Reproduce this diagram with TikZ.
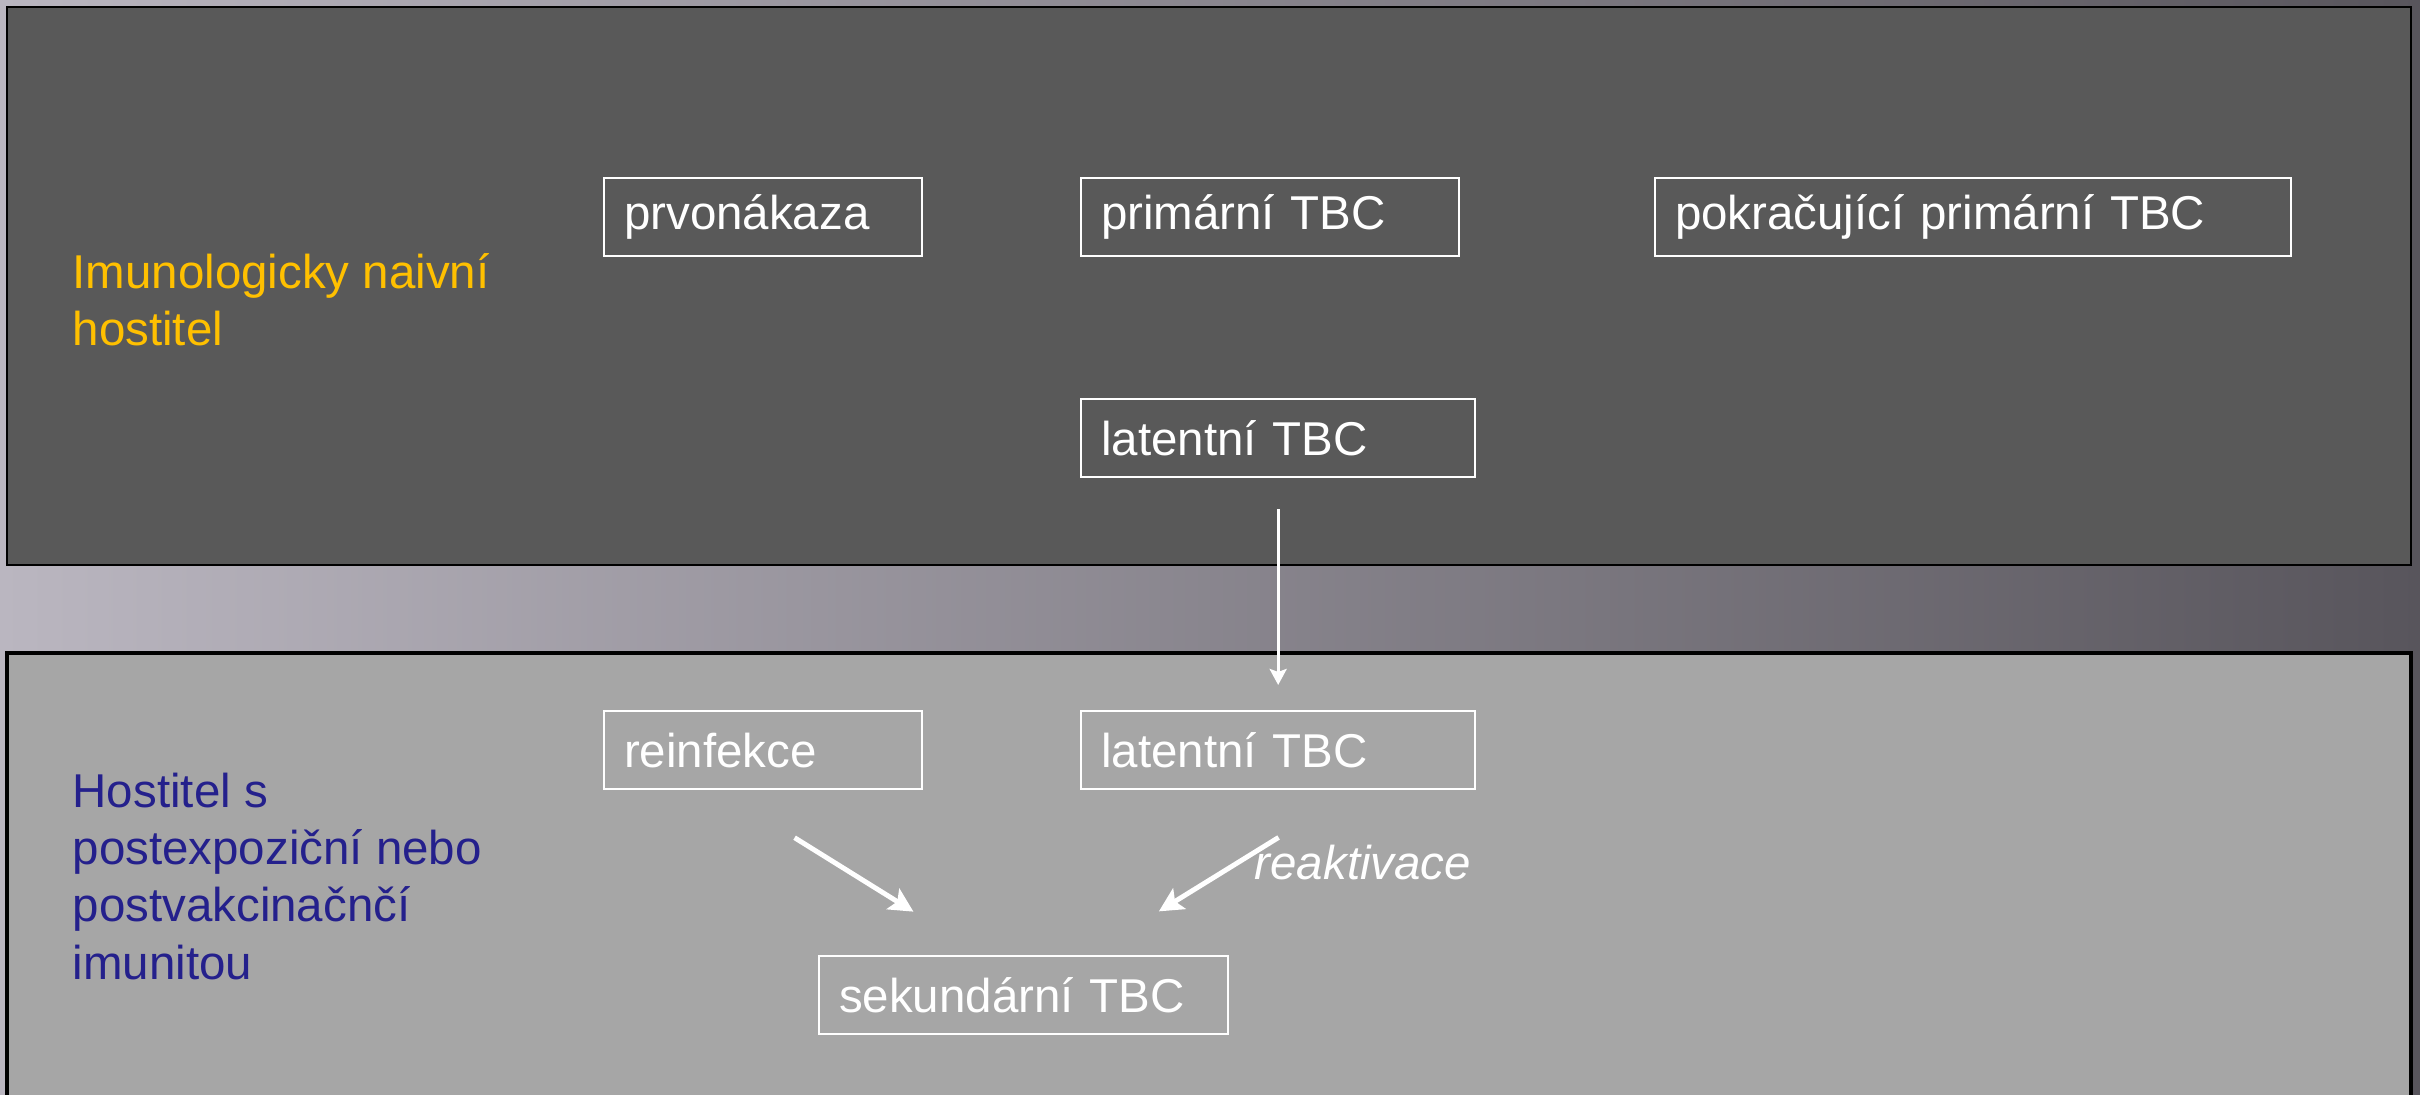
\documentclass[tikz,border=0pt]{standalone}
\usepackage{fontspec}
\setmainfont{Liberation Sans}
\usetikzlibrary{arrows.meta}

\definecolor{bgleft}{RGB}{186,182,192}
\definecolor{bgmid}{RGB}{120,118,126}
\definecolor{bgright}{RGB}{88,85,92}
\definecolor{panelA}{RGB}{89,89,89}
\definecolor{panelB}{RGB}{166,166,166}
\definecolor{naive}{RGB}{255,192,0}
\definecolor{immune}{RGB}{36,32,140}

\tikzset{
	tbc/.style={draw=white, line width=0.6pt, text=white, anchor=north west,
		inner xsep=0.2cm, inner ysep=0pt, minimum height=0.78cm, align=left,
		font=\fontsize{13.5}{16.3}\selectfont},
	hostlabel/.style={anchor=north west, align=left, inner sep=0pt,
		font=\fontsize{13.5}{16.3}\selectfont},
	arr/.style={white, -{Stealth[inset=0.3mm]}}
}

\begin{document}
\begin{tikzpicture}[x=0.01cm, y=-0.01cm]
	\useasboundingbox (0,0) rectangle (2420,1095);
	\shade [left color=bgleft, middle color=bgmid, right color=bgright] (0,0) rectangle (2420,1095);
	
	\draw [line width=0.8pt, fill=panelA] (7,7) rectangle (2411,565);
	\draw [line width=1pt, fill=panelB] (7,653) rectangle (2411,1110);
	
	\node [hostlabel, text=naive] (naive) at (72,253) {Imunologicky naivní\\hostitel};
	\node [hostlabel, text=immune] (immune) at (72,772) {Hostitel s\\postexpoziční nebo\\postvakcinačnčí\\imunitou};
	
	\node [tbc, text width=2.78cm] (prvo) at (603,177) {prvonákaza};
	\node [tbc, text width=3.38cm] (prim) at (1080,177) {primární TBC};
	\node [tbc, text width=5.96cm] (pokr) at (1654,177) {pokračující primární TBC};
	\node [tbc, text width=3.54cm] (lat1) at (1080,398) {latentní TBC};
	
	\node [tbc, text width=2.78cm] (reinf) at (603,710) {reinfekce};
	\node [tbc, text width=3.54cm] (lat2) at (1080,710) {latentní TBC};
	\node [tbc, text width=3.69cm] (sek) at (818,955) {sekundární TBC};
	
	\draw [arr, line width=0.9pt, arrows={-{Stealth[length=0.16cm, width=0.17cm, inset=0.3mm]}},
		shorten <=0.31cm, shorten >=0.25cm] (lat1) -- (lat2);
	\draw [arr, line width=1.4pt, arrows={-{Stealth[length=0.24cm, width=0.24cm, inset=0.5mm]}},
		shorten <=0.9cm, shorten >=0.82cm] ([xshift=-0.45cm]reinf.south) -- ([xshift=-0.405cm]sek.north);
	\draw [arr, line width=1.4pt, arrows={-{Stealth[length=0.24cm, width=0.24cm, inset=0.5mm]}},
		shorten <=0.9cm, shorten >=0.83cm] ([xshift=0.77cm]lat2.south) -- ([xshift=0.645cm]sek.north);
	\node [anchor=base west, inner sep=0pt, text=white, font=\fontsize{13.5}{16.3}\selectfont\itshape] (reakt) at (1254,880) {reaktivace};
	
\end{tikzpicture}
\end{document}
